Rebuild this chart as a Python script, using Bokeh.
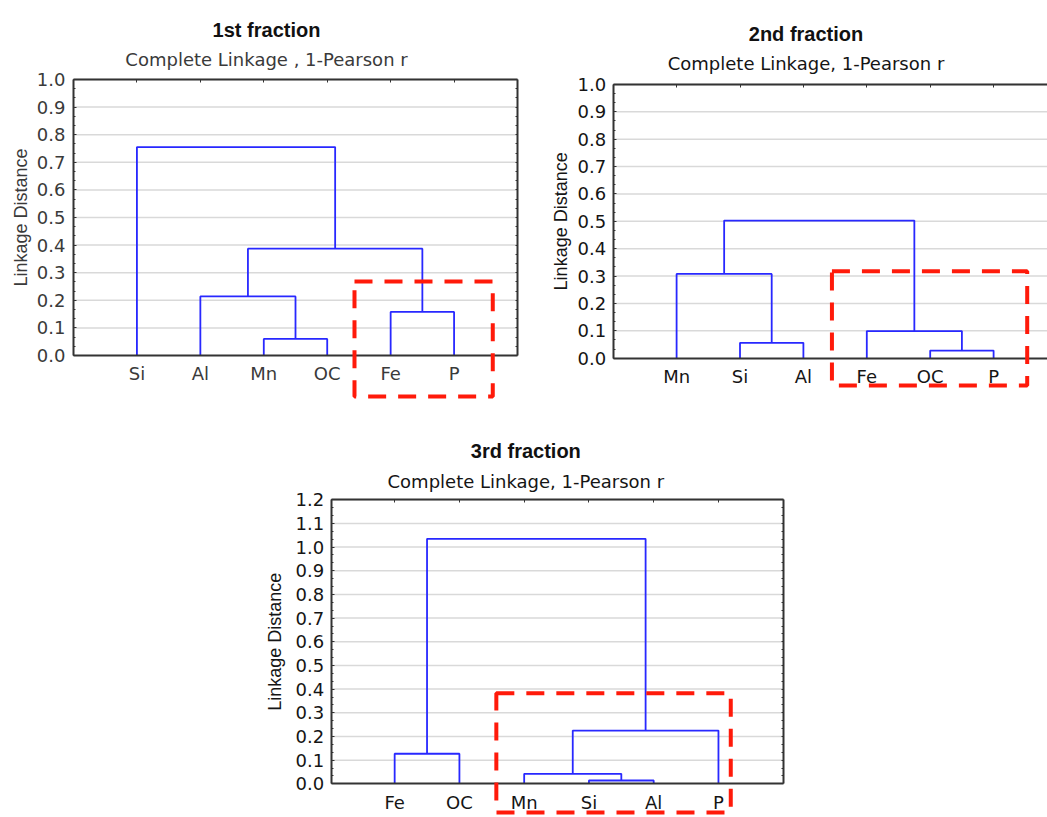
import math
from bokeh.plotting import figure
from bokeh.models import (ColumnDataSource, LinearAxis, FixedTicker, PrintfTickFormatter,
                          Range1d, BoxAnnotation, Label, Spacer)
from bokeh.layouts import column, row
from bokeh.embed import file_html
from bokeh.resources import INLINE

# ---------------- data ----------------
titles = ["1st fraction", "2nd fraction", "3rd fraction"]
subtitles = ["Complete Linkage , 1-Pearson r",
             "Complete Linkage, 1-Pearson r",
             "Complete Linkage, 1-Pearson r"]
y_label = "Linkage Distance"

leaves_1 = ["Si", "Al", "Mn", "OC", "Fe", "P"]
merge_left_1 = ["Mn", "Al", "Fe", "c1", "Si"]
merge_right_1 = ["OC", "c0", "P", "c2", "c3"]
merge_height_1 = [0.060, 0.214, 0.158, 0.387, 0.755]

leaves_2 = ["Mn", "Si", "Al", "Fe", "OC", "P"]
merge_left_2 = ["Si", "Mn", "OC", "Fe", "c1"]
merge_right_2 = ["Al", "c0", "P", "c2", "c3"]
merge_height_2 = [0.056, 0.308, 0.028, 0.099, 0.503]

leaves_3 = ["Fe", "OC", "Mn", "Si", "Al", "P"]
merge_left_3 = ["Si", "Mn", "c1", "Fe", "c3"]
merge_right_3 = ["Al", "c0", "P", "OC", "c2"]
merge_height_3 = [0.014, 0.042, 0.225, 0.127, 1.035]

y_max = [1.0, 1.0, 1.2]

# highlighted groups (red dashed boxes), in axis units
box_1 = dict(left=4.43, right=6.61, bottom=-0.149, top=0.268)
box_2 = dict(left=3.45, right=6.53, bottom=-0.100, top=0.318)
box_3 = dict(left=2.57, right=6.19, bottom=-0.121, top=0.383)

# ---------------- styles / layout ----------------
BLUE = "#2828ff"
RED = "#ff1a0a"
AXIS = "#333333"
GRID = "#d9d9d9"
TICK_FONT = "DejaVu Sans"
TITLE_FONT = "Liberation Sans"

# per panel: figure size, pixel position of the (0,0) data point, pixels per unit
layout_1 = dict(w=540, h=420, ox=73.0, oy=355.0, ux=63.43, uy=276.0, x_left=0.0, x_right=7.0,
                tick_standoff=8, x_standoff=7, title_x=3.043, title_y=1.180, sub_y=1.074,
                ylab_x=-0.82, text_color="#3a3a3a")
layout_2 = dict(w=507, h=420, ox=72.7, oy=357.7, ux=63.4, uy=273.7, x_left=0.0, x_right=None,
                tick_standoff=7, x_standoff=8, title_x=3.041, title_y=1.185, sub_y=1.078,
                ylab_x=-0.831, text_color="#151515")
layout_3 = dict(w=560, h=397, ox=79.4, oy=363.3, ux=64.76, uy=236.7, x_left=0.02, x_right=7.0,
                tick_standoff=7, x_standoff=8, title_x=3.025, title_y=1.404, sub_y=1.278,
                ylab_x=-0.845, text_color="#151515")


def dendro_lines(leaves, lefts, rights, heights):
    pos = {name: (i + 1.0, 0.0) for i, name in enumerate(leaves)}
    xs, ys = [], []
    for k, (a, b, h) in enumerate(zip(lefts, rights, heights)):
        xa, ha = pos[a]
        xb, hb = pos[b]
        xs.append([xa, xa, xb, xb])
        ys.append([ha, h, h, hb])
        pos[f"c{k}"] = ((xa + xb) / 2.0, h)
    return xs, ys


def make_panel(leaves, lefts, rights, heights, title, subtitle, ymax, box, L):
    x0, x1 = -L["ox"] / L["ux"], (L["w"] - L["ox"]) / L["ux"]
    y0, y1 = -(L["h"] - L["oy"]) / L["uy"], L["oy"] / L["uy"]
    p = figure(width=L["w"], height=L["h"], x_range=Range1d(x0, x1), y_range=Range1d(y0, y1),
               x_axis_type=None, y_axis_type=None,
               output_backend="svg", toolbar_location=None, title=None,
               min_border_left=0, min_border_right=0, min_border_top=0, min_border_bottom=0)
    p.outline_line_color = None
    p.background_fill_color = "white"
    p.border_fill_color = "white"

    xl = L["x_left"]
    xr = L["x_right"] if L["x_right"] is not None else x1
    ticks = list(range(1, len(leaves) + 1))
    n = int(round(ymax * 10))
    y_ticks = [round(i / 10, 1) for i in range(n + 1)]
    y_minor = [i / 30 for i in range(n * 3 + 1)]
    tc = L["text_color"]

    # horizontal grid lines at the y ticks, across the plot area only
    gy = y_ticks[1:]
    p.segment(x0=[xl] * len(gy), x1=[xr] * len(gy), y0=gy, y1=gy,
              line_color=GRID, line_width=1.5)

    # left axis
    ya = LinearAxis(fixed_location=xl, bounds=(0, ymax),
                    ticker=FixedTicker(ticks=y_ticks, minor_ticks=y_minor),
                    formatter=PrintfTickFormatter(format="%.1f"),
                    major_tick_in=3, major_tick_out=0, minor_tick_in=2, minor_tick_out=0,
                    axis_line_color=AXIS, axis_line_width=2,
                    major_tick_line_color=AXIS, minor_tick_line_color=AXIS,
                    major_label_standoff=L["tick_standoff"],
                    major_label_text_font=TICK_FONT, major_label_text_font_size="18px",
                    major_label_text_color=tc)
    p.add_layout(ya, "left")

    # bottom axis with leaf names
    xa = LinearAxis(fixed_location=0, bounds=(xl, xr), ticker=FixedTicker(ticks=ticks),
                    major_label_overrides={t: name for t, name in zip(ticks, leaves)},
                    major_tick_in=0, major_tick_out=0, minor_tick_in=0, minor_tick_out=0,
                    axis_line_color=AXIS, axis_line_width=2,
                    major_label_standoff=L["x_standoff"],
                    major_label_text_font=TICK_FONT, major_label_text_font_size="18px",
                    major_label_text_color=tc)
    p.add_layout(xa, "below")

    # top border with small marks at the leaves
    top = LinearAxis(fixed_location=ymax, bounds=(xl, xr),
                     ticker=FixedTicker(ticks=[], minor_ticks=ticks),
                     major_tick_in=0, major_tick_out=0, minor_tick_in=3, minor_tick_out=0,
                     axis_line_color=AXIS, axis_line_width=2, minor_tick_line_color=AXIS)
    p.add_layout(top, "above")

    if L["x_right"] is not None:
        right = LinearAxis(fixed_location=xr, bounds=(0, ymax),
                           ticker=FixedTicker(ticks=[], minor_ticks=y_minor),
                           major_tick_in=0, major_tick_out=0, minor_tick_in=2, minor_tick_out=0,
                           axis_line_color=AXIS, axis_line_width=2,
                           minor_tick_line_color=AXIS)
        p.add_layout(right, "right")

    xs, ys = dendro_lines(leaves, lefts, rights, heights)
    src = ColumnDataSource(dict(xs=xs, ys=ys))
    p.multi_line(xs="xs", ys="ys", source=src, line_color=BLUE, line_width=1.8)

    p.add_layout(BoxAnnotation(left=box["left"], right=box["right"], bottom=box["bottom"],
                               top=box["top"], fill_color=None, fill_alpha=0,
                               line_color=RED, line_alpha=1.0, line_width=4,
                               line_dash="18 12"))

    p.add_layout(Label(x=L["title_x"], y=L["title_y"], text=title, text_align="center",
                       text_baseline="alphabetic", text_font=TITLE_FONT,
                       text_font_style="bold", text_font_size="20px", text_color="#111111"))
    p.add_layout(Label(x=L["title_x"], y=L["sub_y"], text=subtitle, text_align="center",
                       text_baseline="alphabetic", text_font=TICK_FONT,
                       text_font_size="18px", text_color=tc))
    p.add_layout(Label(x=L["ylab_x"], y=ymax / 2, text=y_label, angle=math.pi / 2,
                       text_align="center", text_baseline="middle", text_font=TITLE_FONT,
                       text_font_size="18px", text_color=tc))
    return p


p1 = make_panel(leaves_1, merge_left_1, merge_right_1, merge_height_1, titles[0], subtitles[0],
                y_max[0], box_1, layout_1)
p2 = make_panel(leaves_2, merge_left_2, merge_right_2, merge_height_2, titles[1], subtitles[1],
                y_max[1], box_2, layout_2)
p3 = make_panel(leaves_3, merge_left_3, merge_right_3, merge_height_3, titles[2], subtitles[2],
                y_max[2], box_3, layout_3)

page = column(row(p1, p2), row(Spacer(width=250, height=layout_3["h"]), p3))

open("out.html", "w").write(file_html(page, INLINE))
